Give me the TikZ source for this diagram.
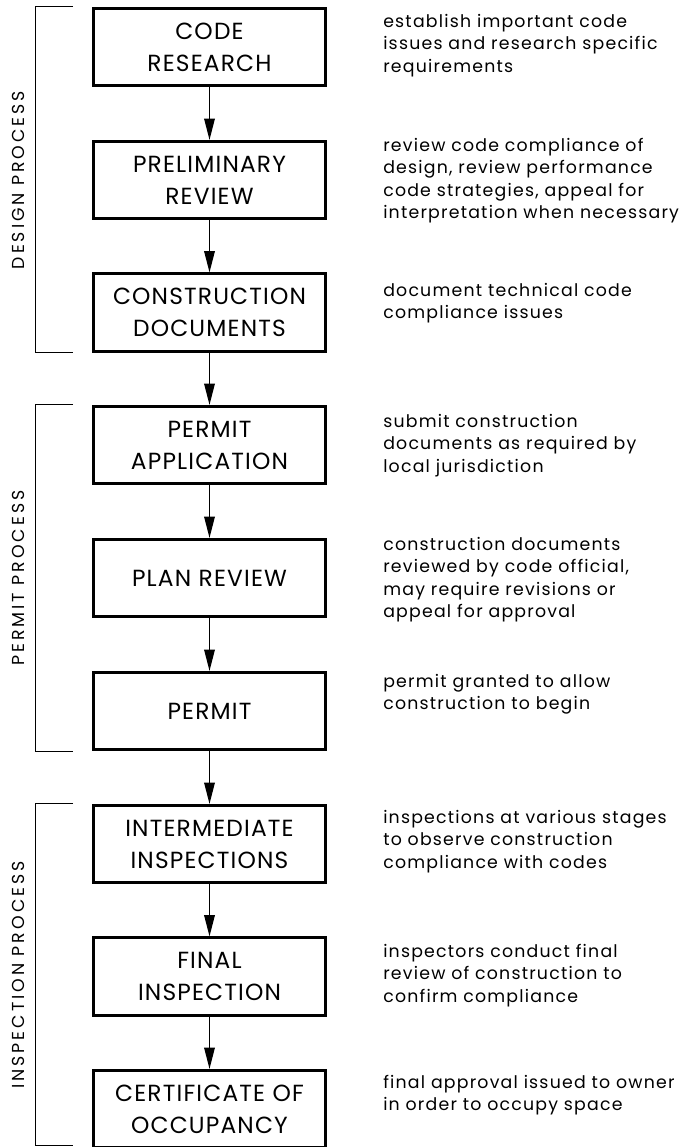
\documentclass[tikz,border=0pt]{standalone}
\usepackage{fontspec}
\usetikzlibrary{arrows.meta,calc}
\newfontfamily\stagefont{Poppins}[LetterSpace=5]
\newfontfamily\notefont{Poppins}[LetterSpace=7]
\newfontfamily\groupfont{Poppins}[LetterSpace=17]

\tikzset{
  stage/.style={draw, line width=2.2pt, minimum width=174pt, minimum height=58pt,
    inner sep=0pt, align=center, font=\stagefont\fontsize{17.5}{24}\selectfont},
  note/.style={anchor=base west, inner sep=0pt, font=\notefont\fontsize{13}{16.9}\selectfont},
  flow/.style={-{Triangle[length=16pt,width=8pt]}, line width=0.9pt},
  bracket/.style={line width=0.7pt},
  grouplabel/.style={rotate=90, inner sep=0pt, font=\groupfont\fontsize{13}{14}\selectfont}
}
\newcommand{\notelines}[1]{\begin{tabular}[t]{@{}l@{}}#1\end{tabular}}

\begin{document}
\begin{tikzpicture}[x=0.75pt,y=-0.75pt]
  \useasboundingbox (0,0) rectangle (686,1147);

  % process stages
  \node[stage] (b1) at (209.5,47)    {CODE\\RESEARCH};
  \node[stage] (b2) at (209.5,180)   {PRELIMINARY\\REVIEW};
  \node[stage] (b3) at (209.5,312.5) {CONSTRUCTION\\DOCUMENTS};
  \node[stage] (b4) at (209.5,445)   {PERMIT\\APPLICATION};
  \node[stage] (b5) at (209.5,578)   {PLAN REVIEW};
  \node[stage] (b6) at (209.5,711)   {PERMIT};
  \node[stage] (b7) at (209.5,844)   {INTERMEDIATE\\INSPECTIONS};
  \node[stage] (b8) at (209.5,976.5) {FINAL\\INSPECTION};
  \node[stage] (b9) at (209.5,1109)  {CERTIFICATE OF\\OCCUPANCY};

  % flow between stages
  \foreach \a/\b in {b1/b2,b2/b3,b3/b4,b4/b5,b5/b6,b6/b7,b7/b8,b8/b9}
    \draw[flow] (\a.south) -- (\b.north);

  % descriptions
  \node[note] (n1) at (383,27)   {\notelines{establish important code\\issues and research specific\\requirements}};
  \node[note] (n2) at (383,151)  {\notelines{review code compliance of\\design, review performance\\code strategies, appeal for\\interpretation when necessary}};
  \node[note] (n3) at (383,296)  {\notelines{document technical code\\compliance issues}};
  \node[note] (n4) at (383,427)  {\notelines{submit construction\\documents as required by\\local jurisdiction}};
  \node[note] (n5) at (383,550)  {\notelines{construction documents\\reviewed by code official,\\may require revisions or\\appeal for approval}};
  \node[note] (n6) at (383,687)  {\notelines{permit granted to allow\\construction to begin}};
  \node[note] (n7) at (383,823)  {\notelines{inspections at various stages\\to observe construction\\compliance with codes}};
  \node[note] (n8) at (383,957)  {\notelines{inspectors conduct final\\review of construction to\\confirm compliance}};
  \node[note] (n9) at (383,1088) {\notelines{final approval issued to owner\\in order to occupy space}};

  % group brackets
  \coordinate (bx) at (35,0);
  \coordinate (ex) at (73,0);
  \coordinate (endfoot) at (0,1145.5);
  \draw[bracket] (ex |- b1.north) -- (bx |- b1.north) -- (bx |- b3.south) -- (ex |- b3.south);
  \draw[bracket] (ex |- b4.north) -- (bx |- b4.north) -- (bx |- b6.south) -- (ex |- b6.south);
  \draw[bracket] (ex |- b7.north) -- (bx |- b7.north) -- (bx |- endfoot) -- (ex |- endfoot);

  % group labels
  \node[grouplabel] (g1) at (18,180) {DESIGN PROCESS};
  \node[grouplabel] (g2) at (18,578) {PERMIT PROCESS};
  \node[grouplabel] (g3) at (18,975) {INSPECTION PROCESS};
\end{tikzpicture}
\end{document}
